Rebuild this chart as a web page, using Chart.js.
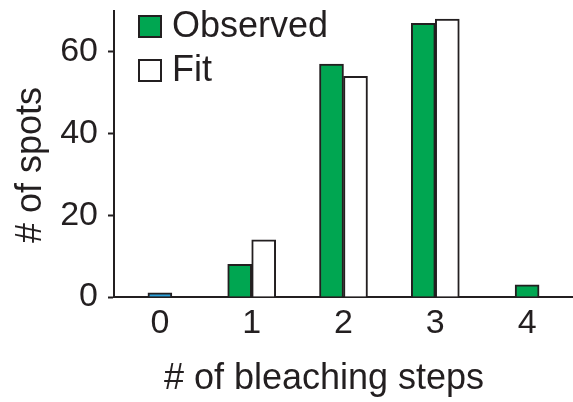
<!DOCTYPE html>
<html>
<head>
<meta charset="utf-8">
<style>
  html, body { margin: 0; padding: 0; background: #ffffff; }
  #chart { display: block; }
</style>
<script src="https://cdn.jsdelivr.net/npm/chart.js@4/dist/chart.umd.min.js"></script>
</head>
<body>
<canvas id="chart" width="573" height="402" style="width:573px;height:402px"></canvas>
<script>
// Photobleaching step counts per spot
const steps = ['0', '1', '2', '3', '4'];
const observedSpots = [1, 8, 57, 67, 3];
const fitSpots = [null, 14, 54, 68, null];
const yTickStep = 20;
const yMax = 70;

const seriesNames = ['Observed', 'Fit'];
const xTitle = '# of bleaching steps';
const yTitle = '# of spots';

const GREEN = '#00a651';
const BLUE = '#2aa0da';
const INK = '#231f20';
const FONT = '"Liberation Sans", Arial, Helvetica, sans-serif';

// zero-step spots are shown in blue, the rest in green
const observedFill = steps.map(s => (s === '0' ? BLUE : GREEN));

// Axis titles and the stacked legend in the upper left of the plot
const annotations = {
  id: 'annotations',
  afterDraw(chart) {
    const { ctx, chartArea } = chart;
    ctx.save();
    ctx.fillStyle = INK;
    ctx.font = '36px ' + FONT;

    // x title
    ctx.textAlign = 'center';
    ctx.textBaseline = 'alphabetic';
    ctx.fillText(xTitle, 324, 389);

    // y title, rotated
    ctx.save();
    ctx.translate(41, 165);
    ctx.rotate(-Math.PI / 2);
    ctx.fillText(yTitle, 0, 0);
    ctx.restore();

    // legend
    const fills = [GREEN, '#ffffff'];
    const boxLeft = chartArea.left + 25;
    ctx.textAlign = 'left';
    seriesNames.forEach((name, i) => {
      const bottom = chartArea.top + 26 + i * 44;
      ctx.fillStyle = fills[i];
      ctx.fillRect(boxLeft, bottom - 21, 22, 21);
      ctx.lineWidth = 2;
      ctx.strokeStyle = INK;
      ctx.strokeRect(boxLeft, bottom - 21, 22, 21);
      ctx.fillStyle = INK;
      ctx.fillText(name, boxLeft + 33, bottom);
    });
    ctx.restore();
  }
};

// keep the plot edges where the axes are, without label overhang padding
function noOverhang(scale) {
  scale.paddingTop = 0;
  scale.paddingBottom = 0;
  scale.paddingLeft = 0;
  scale.paddingRight = 0;
}

new Chart(document.getElementById('chart'), {
  type: 'bar',
  data: {
    labels: steps,
    datasets: [
      {
        label: seriesNames[0],
        data: observedSpots,
        backgroundColor: observedFill,
        borderColor: INK,
        borderWidth: 2,
        borderSkipped: 'start'
      },
      {
        label: seriesNames[1],
        data: fitSpots,
        backgroundColor: '#ffffff',
        borderColor: INK,
        borderWidth: 2,
        borderSkipped: 'start'
      }
    ]
  },
  options: {
    responsive: false,
    devicePixelRatio: 1,
    animation: false,
    skipNull: true,
    barThickness: 24,
    layout: { padding: { top: 11, right: 0, bottom: 0, left: 0 } },
    plugins: {
      legend: { display: false },
      tooltip: { enabled: false }
    },
    scales: {
      x: {
        type: 'category',
        offset: true,
        grid: { display: true, drawOnChartArea: false, drawTicks: false },
        border: { display: true, color: INK, width: 2 },
        ticks: {
          color: INK,
          padding: 6,
          font: { family: FONT, size: 34 }
        },
        afterFit(scale) { scale.height = 105; noOverhang(scale); }
      },
      y: {
        min: 0,
        max: yMax,
        grid: {
          display: true,
          drawOnChartArea: false,
          drawTicks: true,
          tickLength: 6,
          tickWidth: 2,
          tickColor: INK
        },
        border: { display: true, color: INK, width: 2 },
        ticks: {
          stepSize: yTickStep,
          includeBounds: false,
          color: INK,
          padding: 10,
          font: { family: FONT, size: 34 }
        },
        afterFit(scale) { scale.width = 114; noOverhang(scale); }
      }
    }
  },
  plugins: [annotations]
});
</script>
</body>
</html>
